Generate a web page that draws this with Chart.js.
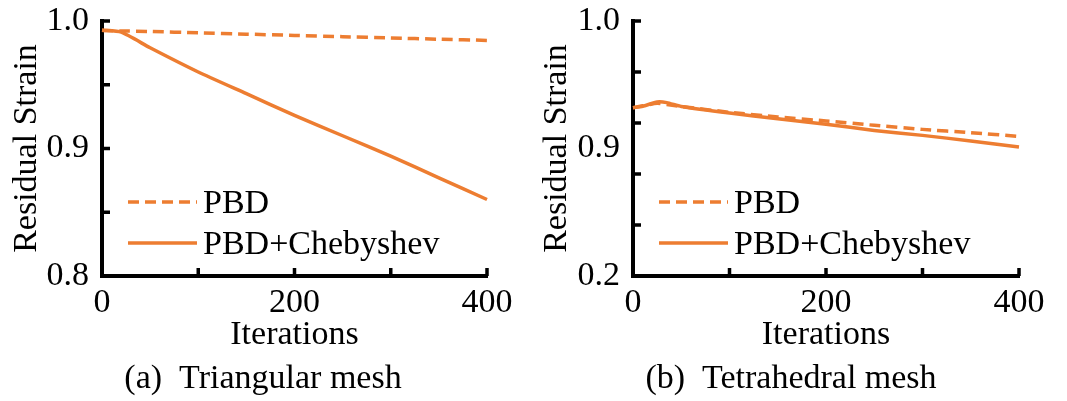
<!DOCTYPE html>
<html>
<head>
<meta charset="utf-8">
<script src="https://cdn.jsdelivr.net/npm/chart.js@4.4.0/dist/chart.umd.min.js"></script>
<style>
  body { margin: 0; background: #fff; }
  #wrap { position: relative; width: 1067px; height: 401px; overflow: hidden; }
  #wrap canvas { position: absolute; top: 0; }
  .caption {
    position: absolute; top: 360px; line-height: 34px;
    font-family: "Liberation Serif", "Times New Roman", serif; font-size: 34px;
    white-space: pre; transform: translateX(-50%); color: #000;
  }
</style>
</head>
<body>
<div id="wrap">
  <canvas id="triChart" width="533" height="401" style="left:0"></canvas>
  <canvas id="tetChart" width="534" height="401" style="left:533px"></canvas>
  <div class="caption" style="left:263px">(a)&ensp;Triangular mesh</div>
  <div class="caption" style="left:791px">(b)&ensp;Tetrahedral mesh</div>
</div>
<script>
// (a) triangular mesh
const triIterations = [0, 20, 50, 100, 150, 200, 250, 300, 350, 400];
const triPBD = [0.9927, 0.9922, 0.9918, 0.9907, 0.9897, 0.9887, 0.9877, 0.9867, 0.9857, 0.9848];
const triCheb = [0.9927, 0.9912, 0.979, 0.960, 0.943, 0.926, 0.910, 0.894, 0.877, 0.860];

// (b) tetrahedral mesh
const tetIterations = [0, 10, 25, 35, 50, 100, 150, 200, 250, 300, 350, 400];
const tetPBD = [0.932, 0.9335, 0.9355, 0.9345, 0.933, 0.9284, 0.9247, 0.9216, 0.9182, 0.915, 0.9124, 0.9095];
const tetCheb = [0.932, 0.9331, 0.9365, 0.936, 0.933, 0.9278, 0.9234, 0.919, 0.9142, 0.9103, 0.9059, 0.9012];

// axis ticks
const xTickValues = [0, 100, 200, 300, 400];
const xTickLabels = ['0', '', '200', '', '400'];
const triYTickValues = [0.8, 0.85, 0.9, 0.95, 1.0];
const triYTickLabels = ['0.8', '', '0.9', '', '1.0'];
const tetYTickValues = [0.8, 0.9, 1.0];
const tetYTickLabels = ['0.2', '0.9', '1.0'];
const tetYMarks = [0.8, 0.84, 0.88, 0.92, 0.96, 1.0];

const orange = '#ED7D31';
const font = { family: "'Liberation Serif', 'Times New Roman', serif", size: 34 };

// short tick marks drawn inside the plot
const innerTicks = {
  id: 'innerTicks',
  afterDraw(chart, args, opts) {
    const { ctx, chartArea: a, scales: { x, y } } = chart;
    ctx.save();
    ctx.strokeStyle = '#000';
    ctx.lineWidth = 3.5;
    ctx.beginPath();
    opts.xMarks.forEach(v => {
      const px = x.getPixelForValue(v);
      ctx.moveTo(px, a.bottom);
      ctx.lineTo(px, a.bottom - opts.length);
    });
    opts.yMarks.forEach(v => {
      const py = y.getPixelForValue(v);
      ctx.moveTo(a.left, py);
      ctx.lineTo(a.left + opts.length, py);
    });
    ctx.stroke();
    ctx.restore();
  }
};

// legend inside the plot area
const insetLegend = {
  id: 'insetLegend',
  afterDraw(chart, args, opts) {
    const { ctx, chartArea: a } = chart;
    chart.data.datasets.forEach((ds, i) => {
      const y = a.top + opts.rows[i];
      ctx.save();
      ctx.strokeStyle = ds.borderColor;
      ctx.lineWidth = ds.borderWidth;
      ctx.setLineDash(ds.borderDash || []);
      ctx.beginPath();
      ctx.moveTo(a.left + opts.x0, y);
      ctx.lineTo(a.left + opts.x1, y);
      ctx.stroke();
      ctx.setLineDash([]);
      ctx.fillStyle = '#000';
      ctx.font = font.size + 'px ' + font.family;
      ctx.textBaseline = 'alphabetic';
      ctx.fillText(ds.label, a.left + opts.textX, y + 11);
      ctx.restore();
    });
  }
};

function makeChart(id, iters, pbd, cheb, yVals, yLabels, yMarks, yAxisWidth, titlePad, rightPad) {
  const pts = vals => iters.map((x, i) => ({ x: x, y: vals[i] }));
  return new Chart(document.getElementById(id), {
    type: 'line',
    data: {
      datasets: [
        { label: 'PBD', data: pts(pbd), borderColor: orange, borderWidth: 3.5, borderDash: [11, 6], pointRadius: 0, tension: 0.2, clip: false },
        { label: 'PBD+Chebyshev', data: pts(cheb), borderColor: orange, borderWidth: 3.5, pointRadius: 0, tension: 0.2, clip: false }
      ]
    },
    options: {
      responsive: false,
      animation: false,
      layout: { padding: { top: 21, right: rightPad, bottom: 45, left: 0 } },
      plugins: {
        legend: { display: false },
        tooltip: { enabled: false },
        innerTicks: { xMarks: xTickValues, yMarks: yMarks, length: 8 },
        insetLegend: { rows: [181, 222], x0: 26, x1: 95, textX: 101 }
      },
      scales: {
        x: {
          type: 'linear', min: 0, max: 400,
          afterBuildTicks: s => { s.ticks = xTickValues.map(v => ({ value: v })); },
          afterFit: s => { s.height = 80; s.paddingLeft = 0; s.paddingRight = 0; },
          grid: { display: false, drawTicks: false },
          border: { display: true, color: '#000', width: 4 },
          ticks: { autoSkip: false, maxRotation: 0, padding: 7, color: '#000', font: font, callback: (v, i) => xTickLabels[i] },
          title: { display: true, text: 'Iterations', color: '#000', font: font, padding: { top: 0, bottom: 1 } }
        },
        y: {
          type: 'linear', min: 0.8, max: 1.0,
          afterBuildTicks: s => { s.ticks = yVals.map(v => ({ value: v })); },
          afterFit: s => { s.width = yAxisWidth; s.paddingTop = 0; s.paddingBottom = 0; },
          grid: { display: false, drawTicks: false },
          border: { display: true, color: '#000', width: 4 },
          ticks: { autoSkip: false, padding: 13, color: '#000', font: font, callback: (v, i) => yLabels[i] },
          title: { display: true, text: 'Residual Strain', color: '#000', font: font, padding: { top: titlePad, bottom: 0 } }
        }
      }
    },
    plugins: [innerTicks, insetLegend]
  });
}

makeChart('triChart', triIterations, triPBD, triCheb, triYTickValues, triYTickLabels, triYTickValues, 102, 6.6, 46);
makeChart('tetChart', tetIterations, tetPBD, tetCheb, tetYTickValues, tetYTickLabels, tetYMarks, 100, 3.3, 48);
</script>
</body>
</html>
